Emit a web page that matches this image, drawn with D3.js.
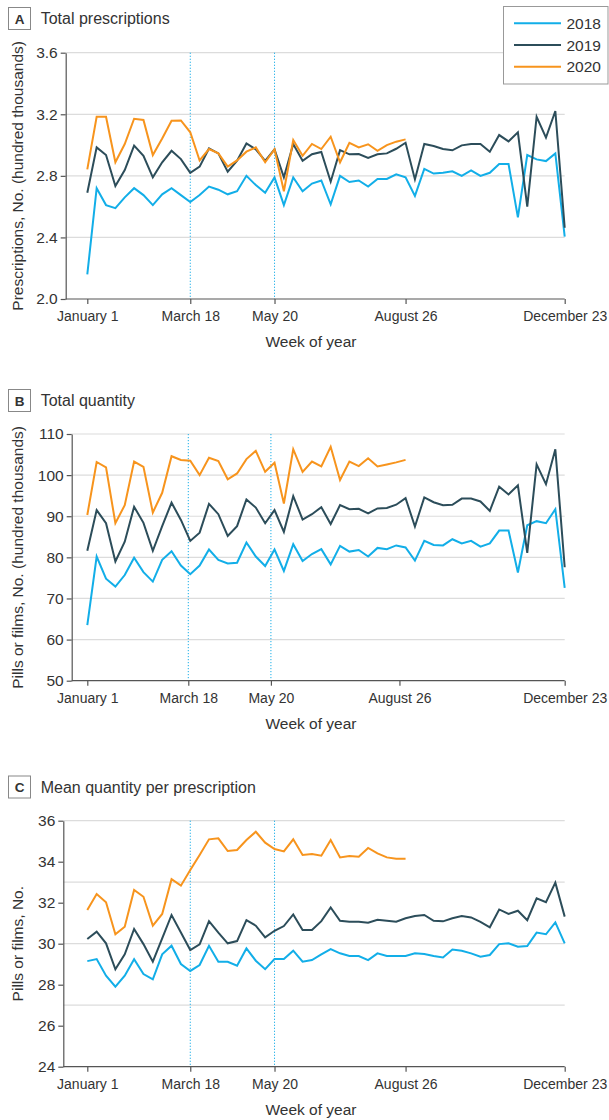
<!DOCTYPE html>
<html>
<head>
<meta charset="utf-8">
<script src="https://cdn.jsdelivr.net/npm/d3@7"></script>
<style>
  html, body { margin: 0; padding: 0; background: #fff; }
  svg { display: block; }
  text { font-family: "Liberation Sans", Arial, sans-serif; fill: #333; }
</style>
</head>
<body>
<svg id="chart" width="609" height="1120"></svg>
<script>
// ---------- data ----------
const years = ["2018", "2019", "2020"];
const tickLabels = ["January 1", "March 18", "May 20", "August 26", "December 23"];
const tickWeeks = [0, 11, 20, 34, 51];
const tickWeeksB = [0, 11, 20, 34, 52];
const markerWeeks = [11, 20];

const prescriptions2018 = [2.16,2.72,2.61,2.59,2.66,2.72,2.675,2.61,2.68,2.72,2.675,2.63,2.675,2.73,2.71,2.68,2.70,2.80,2.74,2.69,2.79,2.61,2.79,2.70,2.75,2.77,2.615,2.80,2.76,2.77,2.73,2.78,2.78,2.81,2.79,2.67,2.845,2.815,2.82,2.83,2.80,2.835,2.80,2.82,2.877,2.877,2.53,2.935,2.907,2.896,2.946,2.405];
const prescriptions2019 = [2.69,2.985,2.935,2.734,2.838,2.996,2.93,2.79,2.888,2.963,2.909,2.82,2.86,2.978,2.946,2.827,2.898,3.01,2.972,2.898,2.972,2.79,3.007,2.898,2.94,2.955,2.762,2.967,2.94,2.942,2.916,2.94,2.946,2.976,3.015,2.777,3.007,2.994,2.974,2.966,2.998,3.007,3.007,2.957,3.065,3.024,3.083,2.60,3.184,3.048,3.221,2.463];
const prescriptions2020 = [2.842,3.184,3.184,2.888,3.007,3.171,3.163,2.935,3.043,3.158,3.16,3.083,2.90,2.974,2.946,2.86,2.90,2.957,2.985,2.888,2.972,2.70,3.033,2.93,3.007,2.974,3.054,2.888,3.015,2.985,3.005,2.963,3.0,3.022,3.037];

const quantity2018 = [63.5,80.2,74.8,72.9,75.7,79.9,76.4,74.1,79.4,81.5,78.0,75.9,78.0,81.9,79.4,78.5,78.7,83.6,80.2,77.9,81.9,76.7,83.2,79.1,80.8,82.0,78.3,82.8,81.4,81.8,80.2,82.3,82.0,82.9,82.4,79.2,84.0,83.0,82.9,84.4,83.4,84.0,82.6,83.4,86.5,86.5,76.3,87.8,88.8,88.3,91.7,72.6];
const quantity2019 = [81.6,91.5,88.3,79.0,83.8,92.3,88.4,81.6,87.6,93.3,89.1,84.0,86.0,93.0,90.5,85.2,87.6,94.1,92.1,88.3,91.5,86.2,94.9,89.2,90.5,92.2,88.1,92.7,91.7,91.8,90.7,91.9,92.0,92.8,94.4,87.5,94.6,93.4,92.7,92.8,94.3,94.3,93.6,91.3,97.2,95.3,97.5,81.1,102.6,97.8,106.3,77.6];
const quantity2020 = [90.3,103.2,101.9,88.3,92.7,103.3,102.0,90.9,95.7,104.6,103.7,103.5,100.0,104.2,103.4,99.0,100.4,103.9,105.9,100.8,103.0,93.1,106.3,100.8,103.3,102.1,106.9,98.8,103.3,102.2,104.1,102.1,102.6,103.1,103.7];

const meanQty2018 = [29.15,29.25,28.44,27.9,28.44,29.24,28.52,28.26,29.48,29.9,29.01,28.67,28.96,29.9,29.12,29.12,28.93,29.77,29.17,28.76,29.25,29.25,29.66,29.12,29.2,29.48,29.74,29.53,29.4,29.4,29.2,29.53,29.4,29.4,29.4,29.53,29.5,29.4,29.33,29.72,29.66,29.53,29.37,29.45,29.98,30.02,29.85,29.89,30.54,30.46,31.04,30.02];
const meanQty2019 = [30.23,30.59,30.02,28.75,29.48,30.72,29.98,29.12,30.26,31.4,30.55,29.69,29.97,31.1,30.54,30.02,30.13,31.15,30.88,30.31,30.63,30.86,31.43,30.67,30.67,31.1,31.77,31.12,31.07,31.07,31.02,31.17,31.12,31.07,31.24,31.35,31.4,31.12,31.09,31.24,31.35,31.28,31.07,30.8,31.67,31.45,31.61,31.15,32.21,32.02,32.98,31.32];
const meanQty2020 = [31.64,32.42,32.02,30.46,30.83,32.62,32.29,30.88,31.45,33.15,32.83,33.59,34.33,35.09,35.14,34.52,34.57,35.06,35.46,34.93,34.62,34.5,35.09,34.33,34.37,34.29,35.06,34.21,34.28,34.24,34.67,34.41,34.21,34.15,34.15];

const yTicksA = [2.0, 2.4, 2.8, 3.2, 3.6];
const yGridA = [2.4, 2.8, 3.2, 3.6];
const yTicksB = [50, 60, 70, 80, 90, 100, 110];
const yGridB = [60, 70, 80, 90, 100, 110];
const yTicksC = [24, 26, 28, 30, 32, 34, 36];
const yGridC = [27, 30, 33, 36];

// ---------- style ----------
const colors = { "2018": "#12aee8", "2019": "#2c4d5a", "2020": "#f7941d" };
const gridColor = "#dcdcdc";
const axisColor = "#555";
const markerColor = "#1aaee8";

const svg = d3.select("#chart");

const x = d3.scaleLinear().domain([0, 51]).range([87.3, 564.7]);

const panels = [
  { letter: "A", title: "Total prescriptions", ytitle: "Prescriptions, No. (hundred thousands)",
    series: [prescriptions2018, prescriptions2019, prescriptions2020],
    yTicks: yTicksA, yGrid: yGridA, fmt: d3.format(".1f"),
    tickWeeks: tickWeeks, tickMax: 51,
    top: 52.7, bottom: 299, axisX: 65.7, titleY: 24 },
  { letter: "B", title: "Total quantity", ytitle: "Pills or films, No. (hundred thousands)",
    series: [quantity2018, quantity2019, quantity2020],
    yTicks: yTicksB, yGrid: yGridB, fmt: d3.format("d"),
    tickWeeks: tickWeeksB, tickMax: 52,
    top: 434, bottom: 680.7, axisX: 71.7, titleY: 406 },
  { letter: "C", title: "Mean quantity per prescription", ytitle: "Pills or films, No.",
    series: [meanQty2018, meanQty2019, meanQty2020],
    yTicks: yTicksC, yGrid: yGridC, fmt: d3.format("d"),
    tickWeeks: tickWeeks, tickMax: 51,
    top: 820.7, bottom: 1066.7, axisX: 63.3, titleY: 792.5 }
];

panels.forEach(p => {
  const g = svg.append("g");
  const yDom = d3.extent(p.yTicks);
  const y = d3.scaleLinear().domain(yDom).range([p.bottom, p.top]);
  const xt = d3.scaleLinear().domain([0, p.tickMax]).range(x.range());
  const xEnd = x.range()[1];

  // panel label box + title
  g.append("rect").attr("x", 8.5).attr("y", p.titleY - 16.5).attr("width", 22).attr("height", 22)
    .attr("fill", "#fff").attr("stroke", "#888").attr("stroke-width", 1);
  g.append("text").attr("x", 19.5).attr("y", p.titleY - 0.5).attr("text-anchor", "middle")
    .attr("font-size", 13.5).attr("font-weight", "bold").text(p.letter);
  g.append("text").attr("x", 40.7).attr("y", p.titleY).attr("font-size", 16).text(p.title);

  // gridlines
  g.append("g").selectAll("line").data(p.yGrid).join("line")
    .attr("x1", p.axisX).attr("x2", xEnd)
    .attr("y1", d => y(d)).attr("y2", d => y(d))
    .attr("stroke", gridColor).attr("stroke-width", 1.2);

  // event markers
  g.append("g").selectAll("line").data(markerWeeks).join("line")
    .attr("x1", d => xt(d)).attr("x2", d => xt(d))
    .attr("y1", p.top).attr("y2", p.bottom)
    .attr("stroke", markerColor).attr("stroke-width", 1)
    .attr("stroke-dasharray", "1.2,1.8");

  // y axis
  const yAxis = d3.axisLeft(y).tickValues(p.yTicks).tickFormat(p.fmt).tickSize(5).tickSizeOuter(0).tickPadding(3);
  const ya = g.append("g").attr("transform", `translate(${p.axisX},0)`).call(yAxis);
  ya.select(".domain").attr("stroke", axisColor).attr("stroke-width", 1.2);
  ya.selectAll(".tick line").attr("stroke", axisColor).attr("stroke-width", 1.2);
  ya.selectAll(".tick text").attr("font-size", 15.5).attr("fill", "#333")
    .attr("font-family", "Liberation Sans, Arial, sans-serif");

  // x axis
  const xAxis = d3.axisBottom(xt).tickValues(p.tickWeeks)
    .tickFormat((d, i) => tickLabels[i]).tickSize(5).tickSizeOuter(0).tickPadding(7);
  const xa = g.append("g").attr("transform", `translate(0,${p.bottom})`).call(xAxis);
  xa.select(".domain").remove();
  xa.selectAll(".tick line").attr("stroke", axisColor).attr("stroke-width", 1.2);
  xa.selectAll(".tick text").attr("font-size", 14).attr("fill", "#333")
    .attr("font-family", "Liberation Sans, Arial, sans-serif");
  g.append("line").attr("x1", p.axisX).attr("x2", xEnd)
    .attr("y1", p.bottom).attr("y2", p.bottom)
    .attr("stroke", axisColor).attr("stroke-width", 1.2);

  // axis titles
  g.append("text").attr("x", 311).attr("y", p.bottom + 47.8).attr("text-anchor", "middle")
    .attr("font-size", 15.5).text("Week of year");
  g.append("text")
    .attr("transform", `translate(23,${(p.top + p.bottom) / 2}) rotate(-90)`)
    .attr("text-anchor", "middle").attr("font-size", 15.5).text(p.ytitle);

  // lines
  const line = d3.line().x((d, i) => x(i)).y(d => y(d));
  p.series.forEach((s, k) => {
    g.append("path").datum(s).attr("d", line)
      .attr("fill", "none").attr("stroke", colors[years[k]])
      .attr("stroke-width", 2).attr("stroke-linejoin", "miter");
  });
});

// legend
const lg = svg.append("g");
lg.append("rect").attr("x", 503.5).attr("y", 6.5).attr("width", 104.5).attr("height", 77.5)
  .attr("fill", "#fff").attr("stroke", "#999").attr("stroke-width", 1);
years.forEach((yr, i) => {
  const cy = 23.3 + i * 21.7;
  lg.append("line").attr("x1", 514).attr("x2", 561).attr("y1", cy).attr("y2", cy)
    .attr("stroke", colors[yr]).attr("stroke-width", 2);
  lg.append("text").attr("x", 566.5).attr("y", cy).attr("dy", "0.36em")
    .attr("font-size", 15.5).text(yr);
});
</script>
</body>
</html>
